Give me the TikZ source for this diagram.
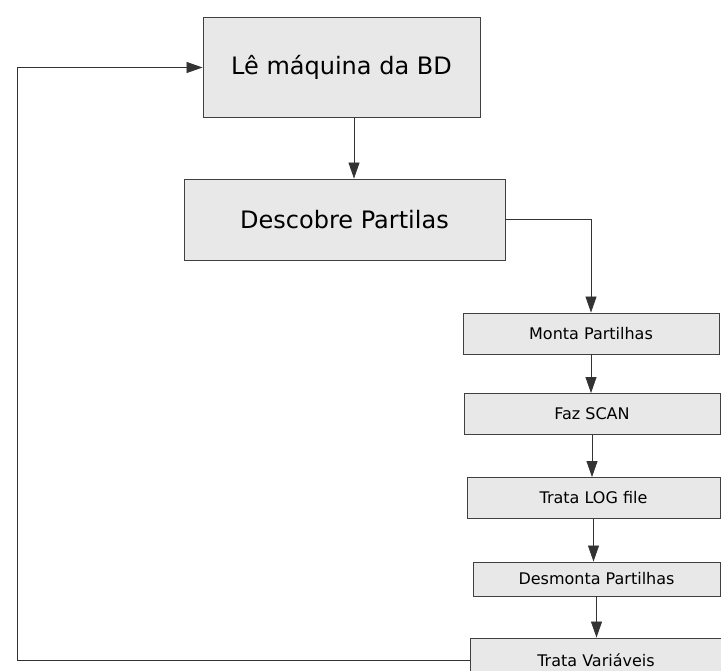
\documentclass[tikz,border=0pt]{standalone}
\usepackage{fontspec}
\setmainfont{DejaVu Sans}
\usetikzlibrary{arrows.meta}

\begin{document}
\begin{tikzpicture}[x=1pt, y=-1pt,
		caixa/.style={draw=black!75, line width=0.9pt, fill=black!9, inner sep=0pt, font=\fontsize{16}{18}\selectfont},
		caixagrande/.style={caixa, font=\fontsize{24}{28}\selectfont},
		seta/.style={draw=black!80, line width=0.8pt, -{Triangle[length=16pt, width=11pt]}}]
		%%%%% START %%%%%
		
		\useasboundingbox (0, 0) rectangle (721, 671);
		
		\node[caixagrande, minimum width=277pt, minimum height=100pt] (le) at (341.5, 67.5) {Lê máquina da BD};
		\node[caixagrande, minimum width=321pt, minimum height=81pt] (descobre) at (344.5, 219.5) {Descobre Partilas};
		
		\node[caixa, minimum width=256pt, minimum height=41pt] (monta) at (591, 333.5) {Monta Partilhas};
		\node[caixa, minimum width=256pt, minimum height=41pt] (scan) at (592, 414) {Faz SCAN};
		\node[caixa, minimum width=253pt, minimum height=41pt] (log) at (593.5, 498) {Trata LOG file};
		\node[caixa, minimum width=247pt, minimum height=34pt] (desmonta) at (596.5, 579) {Desmonta Partilhas};
		\node[caixa, minimum width=252pt, minimum height=44pt] (variaveis) at (596, 660) {Trata Variáveis};
		
		\coordinate (volta) at (17, 0);
		
		\draw[seta] ([xshift=12.5pt]le.south) -- ([xshift=12.5pt]le.south |- descobre.north);
		\draw[seta] (descobre.east) -| (monta.north);
		
		\draw[seta] (monta.south) -- (monta.south |- scan.north);
		\draw[seta] (scan.south) -- (scan.south |- log.north);
		\draw[seta] (log.south) -- (log.south |- desmonta.north);
		\draw[seta] (desmonta.south) -- (desmonta.south |- variaveis.north);
		
		\draw[seta] (variaveis.west) -- (variaveis.west -| volta) |- (le.west);
		
		%%%%% END %%%%%
	\end{tikzpicture}
\end{document}
